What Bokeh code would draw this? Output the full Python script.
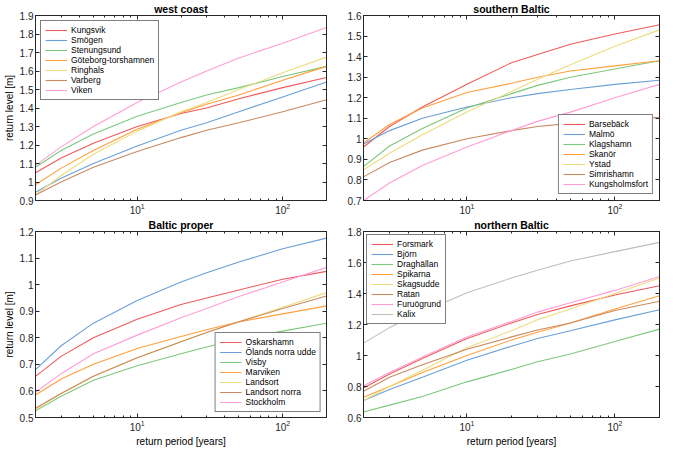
from bokeh.plotting import figure
from bokeh.models import (LogAxis, FixedTicker, LinearAxis, Legend,
                          LegendItem, CustomJSTickFormatter, LogTickFormatter)
from bokeh.layouts import column, row
from bokeh.embed import file_html
from bokeh.resources import INLINE

# ---------------- data ----------------
RETURN_PERIOD = [2, 3, 5, 10, 20, 30, 50, 100, 200]
X_MAJOR_TICKS = [10, 100]
X_MINOR_TICKS = [2, 3, 4, 5, 6, 7, 8, 9, 20, 30, 40, 50, 60, 70, 80, 90, 200]

WEST_STATIONS = ["Kungsvik", "Smögen", "Stenungsund", "Göteborg-torshamnen",
                 "Ringhals", "Varberg", "Viken"]
WEST_LEVELS = [
    [1.05, 1.13, 1.21, 1.30, 1.37, 1.40, 1.45, 1.51, 1.565],
    [0.945, 1.02, 1.10, 1.195, 1.28, 1.32, 1.38, 1.46, 1.54],
    [1.08, 1.17, 1.26, 1.355, 1.43, 1.47, 1.51, 1.57, 1.625],
    [0.985, 1.075, 1.17, 1.285, 1.375, 1.42, 1.47, 1.55, 1.625],
    [0.93, 1.035, 1.15, 1.275, 1.38, 1.43, 1.50, 1.59, 1.675],
    [0.93, 1.00, 1.08, 1.165, 1.24, 1.28, 1.32, 1.38, 1.445],
    [1.09, 1.19, 1.30, 1.43, 1.54, 1.60, 1.67, 1.75, 1.835],
]
WEST_YTICKS = [0.9, 1.0, 1.1, 1.2, 1.3, 1.4, 1.5, 1.6, 1.7, 1.8, 1.9]

SOUTH_STATIONS = ["Barsebäck", "Malmö", "Klagshamn", "Skanör", "Ystad",
                  "Simrishamn", "Kungsholmsfort"]
SOUTH_LEVELS = [
    [0.96, 1.06, 1.155, 1.265, 1.37, 1.41, 1.46, 1.51, 1.555],
    [0.975, 1.04, 1.10, 1.155, 1.20, 1.22, 1.24, 1.265, 1.285],
    [0.865, 0.965, 1.05, 1.15, 1.22, 1.26, 1.30, 1.34, 1.38],
    [0.98, 1.07, 1.15, 1.225, 1.27, 1.30, 1.33, 1.355, 1.38],
    [0.85, 0.93, 1.02, 1.13, 1.23, 1.29, 1.36, 1.45, 1.53],
    [0.815, 0.885, 0.945, 1.00, 1.04, 1.06, 1.075, 1.09, 1.105],
    [0.70, 0.785, 0.87, 0.96, 1.04, 1.085, 1.13, 1.20, 1.265],
]
SOUTH_YTICKS = [0.7, 0.8, 0.9, 1.0, 1.1, 1.2, 1.3, 1.4, 1.5, 1.6]

PROPER_STATIONS = ["Oskarshamn", "Ölands norra udde", "Visby", "Marviken",
                   "Landsort", "Landsort norra", "Stockholm"]
PROPER_LEVELS = [
    [0.655, 0.73, 0.80, 0.87, 0.925, 0.95, 0.98, 1.02, 1.05],
    [0.68, 0.77, 0.855, 0.94, 1.01, 1.045, 1.085, 1.135, 1.175],
    [0.525, 0.58, 0.64, 0.695, 0.74, 0.765, 0.795, 0.825, 0.855],
    [0.585, 0.645, 0.70, 0.76, 0.805, 0.83, 0.86, 0.89, 0.92],
    [0.53, 0.59, 0.655, 0.725, 0.785, 0.82, 0.86, 0.915, 0.97],
    [0.535, 0.59, 0.655, 0.725, 0.785, 0.82, 0.86, 0.91, 0.957],
    [0.595, 0.665, 0.74, 0.81, 0.875, 0.91, 0.955, 1.01, 1.065],
]
PROPER_YTICKS = [0.5, 0.6, 0.7, 0.8, 0.9, 1.0, 1.1, 1.2]

NORTH_STATIONS = ["Forsmark", "Björn", "Draghällan", "Spikarna", "Skagsudde",
                  "Ratan", "Furuögrund", "Kalix"]
NORTH_LEVELS = [
    [0.79, 0.88, 0.98, 1.11, 1.21, 1.265, 1.32, 1.39, 1.45],
    [0.71, 0.78, 0.86, 0.97, 1.06, 1.11, 1.16, 1.23, 1.295],
    [0.635, 0.68, 0.735, 0.83, 0.91, 0.96, 1.01, 1.09, 1.17],
    [0.73, 0.80, 0.89, 1.00, 1.10, 1.15, 1.21, 1.30, 1.385],
    [0.71, 0.80, 0.905, 1.05, 1.16, 1.23, 1.30, 1.40, 1.50],
    [0.77, 0.86, 0.94, 1.04, 1.12, 1.165, 1.21, 1.29, 1.35],
    [0.805, 0.89, 0.99, 1.12, 1.22, 1.28, 1.34, 1.42, 1.51],
    [1.08, 1.18, 1.28, 1.405, 1.50, 1.55, 1.61, 1.67, 1.73],
]
NORTH_YTICKS = [0.6, 0.8, 1.0, 1.2, 1.4, 1.6, 1.8]

COLORS = ["#f05a5a", "#6aa0d8", "#7cc87c", "#ffa03c", "#eedc7c",
          "#c98a60", "#ff9ed6", "#bdbdbd"]

FONT = "Liberation Sans"
AXC = "#262626"


def x_ticker():
    return FixedTicker(ticks=X_MAJOR_TICKS, minor_ticks=X_MINOR_TICKS)


def blank_fmt():
    return CustomJSTickFormatter(code="return '';")


def make_panel(title, names, levels, yticks, width, height, borders,
               xlabel=None, ylabel=None, legend_loc="top_left", legend_margin=6):
    bl, br, bt, bb = borders
    p = figure(width=width, height=height, x_axis_type="log",
               x_range=(RETURN_PERIOD[0], RETURN_PERIOD[-1]),
               y_range=(yticks[0], yticks[-1]),
               output_backend="svg", toolbar_location=None,
               min_border_left=bl, min_border_right=br,
               min_border_top=bt, min_border_bottom=bb)
    p.title.text = title
    p.title.align = "center"
    p.title.text_font = FONT
    p.title.text_font_size = "10.5px"
    p.title.text_font_style = "bold"
    p.title.text_color = "black"
    p.title.standoff = 1
    p.title.offset = 0
    p.xgrid.visible = False
    p.ygrid.visible = False
    p.outline_line_color = AXC
    p.outline_line_width = 1
    p.background_fill_color = "white"
    p.border_fill_color = "white"

    ticker_y = FixedTicker(ticks=yticks)
    fmt = CustomJSTickFormatter(code="return String(Math.round(tick*100)/100);")

    xa = p.xaxis[0]
    xa.ticker = x_ticker()
    xa.formatter = LogTickFormatter()
    ya = p.yaxis[0]
    ya.ticker = ticker_y
    ya.formatter = fmt

    for ax in (xa, ya):
        ax.major_label_text_font = FONT
        ax.major_label_text_font_size = "10px"
        ax.major_label_text_color = AXC
        ax.axis_line_color = AXC
        ax.major_tick_line_color = AXC
        ax.minor_tick_line_color = AXC
        ax.major_tick_in = 4
        ax.major_tick_out = 0
        ax.minor_tick_in = 2
        ax.minor_tick_out = 0
        ax.major_label_standoff = 2
        ax.axis_label_text_font = FONT
        ax.axis_label_text_font_size = "10px"
        ax.axis_label_text_font_style = "normal"
        ax.axis_label_text_color = "black"
        ax.axis_label_standoff = 2
    ya.minor_tick_line_color = None
    if xlabel:
        xa.axis_label = xlabel
    if ylabel:
        ya.axis_label = ylabel

    # mirrored ticks on top and right
    top = LogAxis(ticker=x_ticker(), formatter=blank_fmt(),
                  major_label_text_font_size="1px", major_label_standoff=0,
                  major_tick_in=4, major_tick_out=0, minor_tick_in=2,
                  minor_tick_out=0, axis_line_color=AXC,
                  major_tick_line_color=AXC, minor_tick_line_color=AXC)
    right = LinearAxis(ticker=ticker_y, formatter=blank_fmt(),
                       major_label_text_font_size="1px",
                       major_label_standoff=0, major_tick_in=4,
                       major_tick_out=0, minor_tick_line_color=None,
                       axis_line_color=AXC, major_tick_line_color=AXC)
    p.add_layout(top, "above")
    p.add_layout(right, "right")

    items = []
    for i, (name, lev) in enumerate(zip(names, levels)):
        r = p.line(RETURN_PERIOD, lev, line_color=COLORS[i], line_width=1.1)
        items.append(LegendItem(label=name, renderers=[r]))
    leg = Legend(items=items, location=legend_loc,
                 label_text_font=FONT, label_text_font_size="8.5px",
                 label_text_color="black",
                 label_height=10, glyph_height=10, glyph_width=22,
                 label_standoff=4, spacing=0, padding=4, margin=legend_margin,
                 border_line_color="black", border_line_width=1,
                 background_fill_color="white", background_fill_alpha=1)
    p.add_layout(leg)
    return p


p1 = make_panel("west coast", WEST_STATIONS, WEST_LEVELS, WEST_YTICKS,
                330, 216, (30, 4, 12, 16),
                ylabel="return level [m]", legend_loc="top_left",
                legend_margin=5)
p2 = make_panel("southern Baltic", SOUTH_STATIONS, SOUTH_LEVELS, SOUTH_YTICKS,
                331, 216, (33, 2, 12, 16), legend_loc="bottom_right")
p3 = make_panel("Baltic proper", PROPER_STATIONS, PROPER_LEVELS, PROPER_YTICKS,
                330, 233, (30, 4, 14, 31),
                xlabel="return period [years]", ylabel="return level [m]",
                legend_loc="bottom_right", legend_margin=5)
p4 = make_panel("northern Baltic", NORTH_STATIONS, NORTH_LEVELS, NORTH_YTICKS,
                331, 233, (33, 2, 14, 31),
                xlabel="return period [years]",
                legend_loc="top_left", legend_margin=3)

layout = column(row(p1, p2), row(p3, p4))

with open("out.html", "w") as f:
    f.write(file_html(layout, INLINE))
